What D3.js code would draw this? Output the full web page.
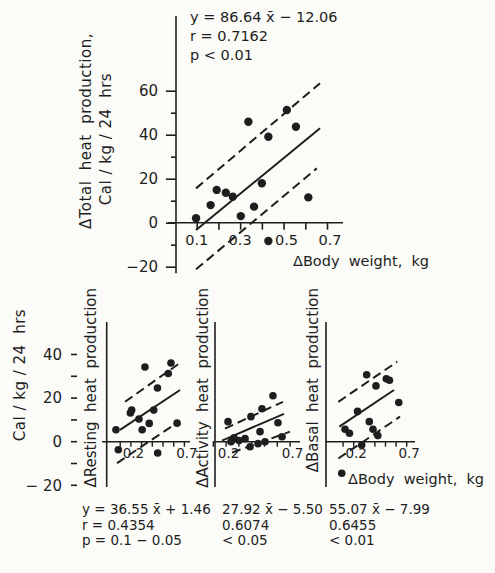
<!DOCTYPE html>
<html><head><meta charset="utf-8">
<script src="https://cdn.jsdelivr.net/npm/d3@7/dist/d3.min.js"></script>
<style>
html,body{margin:0;padding:0;background:#fbfbf8;}
svg{display:block;}
text{font-family:"DejaVu Sans",sans-serif;fill:#1e1e1e;white-space:pre;}
</style></head>
<body>
<script>
// ---- data ----
const topX = [0.097,0.164,0.192,0.234,0.266,0.303,0.338,0.364,0.40,0.43,0.43,0.515,0.557,0.614];
const topY = [2.0,8.0,14.9,13.6,11.8,3.0,45.9,7.3,17.9,39.1,-8.3,51.2,43.6,11.5];
const topFit = [[0.097,-3.3],[0.668,42.9]];
const topUpper = [[0.097,15.6],[0.668,63.4]];
const topLower = [[0.097,-21.2],[0.653,24.7]];
const topYTicks = [-20,0,20,40,60];
const topYMinor = [-10,10,30,50];
const topXTicks = [0.1,0.2,0.3,0.4,0.5,0.6,0.7];
const topXLabels = [0.1,0.3,0.5,0.7];

const restX = [0.336,0.579,0.554,0.453,0.212,0.20,0.28,0.418,0.065,0.31,0.376,0.636,0.087,0.455];
const restY = [34.3,36.1,31.3,24.6,14.5,13.2,10.4,14.5,5.5,5.5,8.4,8.5,-3.7,-5.2];
const restFit = [[0.103,5.4],[0.664,23.7]];
const restUpper = [[0.15,18.3],[0.68,36.7]];
const restLower = [[0.075,-9.8],[0.63,8.5]];

const actX = [0.219,0.398,0.484,0.570,0.469,0.609,0.266,0.305,0.352,0.391,0.453,0.508,0.641,0.242];
const actY = [9.2,11.5,15.1,21.1,4.6,8.7,1.8,0.5,1.4,-2.3,-0.9,0,2.3,0];
const actFit = [[0.172,0.5],[0.656,12.8]];
const actUpper = [[0.195,6.0],[0.648,18.3]];
const actLower = [[0.25,-5.0],[0.703,4.6]];

const basX = [0.327,0.415,0.512,0.542,0.630,0.241,0.352,0.387,0.432,0.123,0.165,0.280,0.092];
const basY = [30.7,25.6,28.9,28.2,18.0,13.9,9.2,5.7,2.8,5.7,3.9,-1.5,-14.5];
const basFit = [[0.069,6.9],[0.585,23.7]];
const basUpper = [[0.06,18.3],[0.616,36.7]];
const basLower = [[0.06,-7.7],[0.642,11.5]];

const botYTicks = [-20,0,20,40];
const botYMinor = [-10,10,30];
const botXTicks = [0.1,0.2,0.3,0.4,0.5,0.6,0.7];
const botXLabels = [0.2,0.7];

const topEq = ["y = 86.64 x\u0304 \u2212 12.06","r = 0.7162","p < 0.01"];
const botEq = [
  ["y = 36.55 x\u0304 + 1.46","r = 0.4354","p = 0.1 \u2212 0.05"],
  ["27.92 x\u0304 \u2212 5.50","0.6074","< 0.05"],
  ["55.07 x\u0304 \u2212 7.99","0.6455","< 0.01"]
];
const panelNames = ["\u0394Resting  heat  production","\u0394Activity  heat  production","\u0394Basal  heat  production"];

// ---- drawing ----
const W = 495, H = 573, ink = "#1e1e1e";
const svg = d3.select("body").append("svg").attr("width",W).attr("height",H);

function pts(g, xs, ys, x, y, r){
  g.selectAll(null).data(xs.map((v,i)=>[v,ys[i]])).enter().append("circle")
    .attr("cx",d=>x(d[0])).attr("cy",d=>y(d[1])).attr("r",r).attr("fill",ink);
}
function seg(g, p, x, y, dashed){
  g.append("line").attr("x1",x(p[0][0])).attr("y1",y(p[0][1]))
   .attr("x2",x(p[1][0])).attr("y2",y(p[1][1]))
   .attr("stroke",ink).attr("stroke-width",2)
   .attr("stroke-dasharray",dashed?"9,5":null);
}

// Top chart
const tx = d3.scaleLinear().domain([0,0.7]).range([175,327]);
const ty = d3.scaleLinear().domain([-20,60]).range([266.7,90.7]);
const topG = svg.append("g");
topG.append("line").attr("x1",176).attr("x2",176).attr("y1",ty(94)).attr("y2",ty(-23)).attr("stroke",ink).attr("stroke-width",1.6);
topG.append("line").attr("x1",168).attr("x2",343).attr("y1",ty(0)).attr("y2",ty(0)).attr("stroke",ink).attr("stroke-width",1.6);
const tyAxis = d3.axisLeft(ty).tickValues(topYTicks).tickSize(10).tickPadding(8).tickFormat(d=>d<0?"\u2212"+Math.abs(d):d);
const gy = topG.append("g").attr("transform","translate(176,0)").call(tyAxis);
gy.select(".domain").remove();
gy.selectAll("line").attr("stroke",ink).attr("stroke-width",1.6);
gy.selectAll("text").attr("font-size",15).attr("font-family","DejaVu Sans").attr("fill",ink);
const gym = topG.append("g").attr("transform","translate(176,0)").call(d3.axisLeft(ty).tickValues(topYMinor).tickSize(5).tickFormat(""));
gym.select(".domain").remove();
gym.selectAll("line").attr("stroke",ink).attr("stroke-width",1.6);
const gx = topG.append("g").attr("transform",`translate(0,${ty(0)})`).call(d3.axisBottom(tx).tickValues(topXTicks).tickSize(7).tickFormat(""));
gx.select(".domain").remove();
gx.selectAll("line").attr("stroke",ink).attr("stroke-width",1.6);
topG.selectAll(null).data(topXLabels).enter().append("text")
  .attr("x",d=>tx(d)+(d>0.4?3:0)).attr("y",245).attr("text-anchor","middle").attr("font-size",14.5).text(d=>d);
seg(topG, topFit, tx, ty, false);
seg(topG, topUpper, tx, ty, true);
seg(topG, topLower, tx, ty, true);
pts(topG, topX, topY, tx, ty, 4.2);
topG.append("text").attr("x",293).attr("y",266).attr("font-size",14.5).text("\u0394Body  weight,  kg");
topEq.forEach((s,i)=>topG.append("text").attr("x",190).attr("y",22+i*19).attr("font-size",14.5).text(s));
topG.append("text").attr("transform","translate(91,131) rotate(-90)").attr("text-anchor","middle").attr("font-size",15).attr("letter-spacing",0.5).text("\u0394Total  heat  production,");
topG.append("text").attr("transform","translate(111,139) rotate(-90)").attr("text-anchor","middle").attr("font-size",15).attr("letter-spacing",0.5).text("Cal / kg / 24  hrs");

// Bottom panels
const by = d3.scaleLinear().domain([-20,40]).range([485.3,354.5]);
const bot = svg.append("g");
bot.selectAll(null).data(botYTicks).enter().append("text")
  .attr("x",62).attr("y",d=>by(d)).attr("dy","0.35em").attr("text-anchor","end").attr("font-size",15)
  .text(d=>d<0?"\u2212 "+Math.abs(d):d);
bot.selectAll(null).data(botYTicks.concat(botYMinor)).enter().append("line")
  .attr("x1",71).attr("x2",77).attr("y1",d=>by(d)).attr("y2",d=>by(d)).attr("stroke",ink).attr("stroke-width",1.6);
bot.append("text").attr("transform","translate(25,375) rotate(-90)").attr("text-anchor","middle").attr("font-size",15).attr("letter-spacing",0.5).text("Cal / kg / 24  hrs");

const panels = [
  {xs:restX, ys:restY, fit:restFit, up:restUpper, lo:restLower, range:[109,183.9], ax:[102,190], yAxisX:106.7, labX:96, eq:82},
  {xs:actX, ys:actY, fit:actFit, up:actUpper, lo:actLower, range:[200,289.6], ax:[213,300], yAxisX:215, labX:208, eq:222},
  {xs:basX, ys:basY, fit:basFit, up:basUpper, lo:basLower, range:[332,406.2], ax:[325,415], yAxisX:326, labX:318, eq:329}
];
panels.forEach((p,k)=>{
  const g = bot.append("g");
  const x = d3.scaleLinear().domain([0,0.7]).range(p.range);
  g.append("line").attr("x1",p.yAxisX).attr("x2",p.yAxisX).attr("y1",322).attr("y2",487).attr("stroke",ink).attr("stroke-width",1.6);
  g.append("line").attr("x1",p.ax[0]).attr("x2",p.ax[1]).attr("y1",by(0)).attr("y2",by(0)).attr("stroke",ink).attr("stroke-width",1.6);
  const a = g.append("g").attr("transform",`translate(0,${by(0)})`).call(d3.axisBottom(x).tickValues(botXTicks).tickSize(5).tickFormat(""));
  a.select(".domain").remove();
  a.selectAll("line").attr("stroke",ink).attr("stroke-width",1.4);
  g.selectAll(null).data(botXLabels).enter().append("text")
    .attr("x",d=>x(d)+3).attr("y",458).attr("text-anchor","middle").attr("font-size",13.5).text(d=>d);
  seg(g, p.fit, x, by, false);
  seg(g, p.up, x, by, true);
  seg(g, p.lo, x, by, true);
  pts(g, p.xs, p.ys, x, by, 3.8);
  g.append("text").attr("transform",`translate(${p.labX},288) rotate(-90)`).attr("text-anchor","end").attr("font-size",15).text(panelNames[k]);
  botEq[k].forEach((s,i)=>g.append("text").attr("x",p.eq).attr("y",514+i*15.5).attr("font-size",13.5).text(s));
});
bot.append("text").attr("x",348).attr("y",484).attr("font-size",14.5).text("\u0394Body  weight,  kg");
</script>
</body></html>
